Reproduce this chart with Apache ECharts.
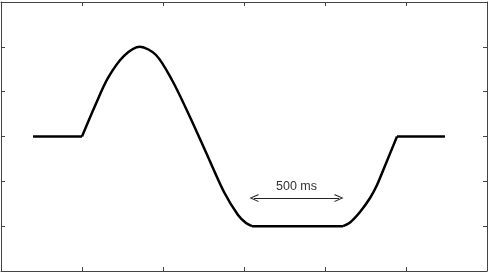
<!DOCTYPE html>
<html>
<head>
<meta charset="utf-8">
<script src="https://cdn.jsdelivr.net/npm/echarts@6/dist/echarts.min.js"></script>
<style>
  html, body { margin: 0; padding: 0; background: #fff; }
  #chart { width: 493px; height: 279px; }
</style>
</head>
<body>
<div id="chart"></div>
<script>
// values, [x, y] in axis units
const flatStart = [[0.395, 0], [1.0, 0]];
const wave = [
  [1.0, 0], [1.16, 0.68], [1.321, 1.305], [1.519, 1.796], [1.716, 2.0],
  [1.914, 1.818], [2.111, 1.26], [2.333, 0.435], [2.556, -0.457],
  [2.753, -1.238], [2.926, -1.751], [3.025, -1.93], [3.099, -2.0]
];
const trough = [[3.099, -2.0], [4.222, -2.0]];
const recovery = [
  [4.222, -2.0], [4.309, -1.918], [4.432, -1.684], [4.556, -1.372],
  [4.642, -1.082], [4.765, -0.546], [4.889, 0]
];
const flatEnd = [[4.889, 0], [5.481, 0]];
const arrowEnds = [[3.123, -1.372], [4.173, -1.372]];
const arrowText = "500 ms";

const frameColor = "#444";
const chevron = "path://M5,0 L10,10 L8.6,10 L5,2.6 L1.4,10 L0,10 Z";

function xAx(pos) {
  return {
    type: "value", position: pos, min: 0, max: 6, interval: 1,
    axisLine: { show: true, onZero: false, lineStyle: { color: frameColor, width: 1 } },
    axisTick: { show: true, inside: true, length: 4, lineStyle: { color: frameColor } },
    axisLabel: { show: false },
    splitLine: { show: false }
  };
}
function yAx(pos) {
  return {
    type: "value", position: pos, min: -3, max: 3, interval: 1,
    axisLine: { show: true, onZero: false, lineStyle: { color: frameColor, width: 1 } },
    axisTick: { show: true, inside: true, length: 4, lineStyle: { color: frameColor } },
    axisLabel: { show: false },
    splitLine: { show: false }
  };
}

function piece(data, smooth, extra) {
  return Object.assign({
    type: "line",
    data: data,
    smooth: smooth,
    showSymbol: false,
    silent: true,
    animation: false,
    lineStyle: { color: "#000", width: 2.5 }
  }, extra || {});
}

const chart = echarts.init(document.getElementById("chart"));
chart.setOption({
  animation: false,
  grid: { left: 1, right: 6, top: 2, bottom: 8 },
  xAxis: [xAx("bottom"), xAx("top")],
  yAxis: [yAx("left"), yAx("right")],
  series: [
    piece(flatStart, false),
    piece(wave, 0.3),
    piece(trough, false, {
      markLine: {
        silent: true,
        symbol: [chevron, chevron],
        symbolSize: [8, 9],
        lineStyle: { color: "#222", width: 1, type: "solid" },
        label: {
          show: true, position: "middle", formatter: arrowText, distance: 5,
          color: "#333", fontSize: 12.5, fontFamily: "Liberation Sans, Arial, sans-serif"
        },
        data: [[{ coord: arrowEnds[0] }, { coord: arrowEnds[1] }]]
      }
    }),
    piece(recovery, 0.3),
    piece(flatEnd, false)
  ]
});
</script>
</body>
</html>
